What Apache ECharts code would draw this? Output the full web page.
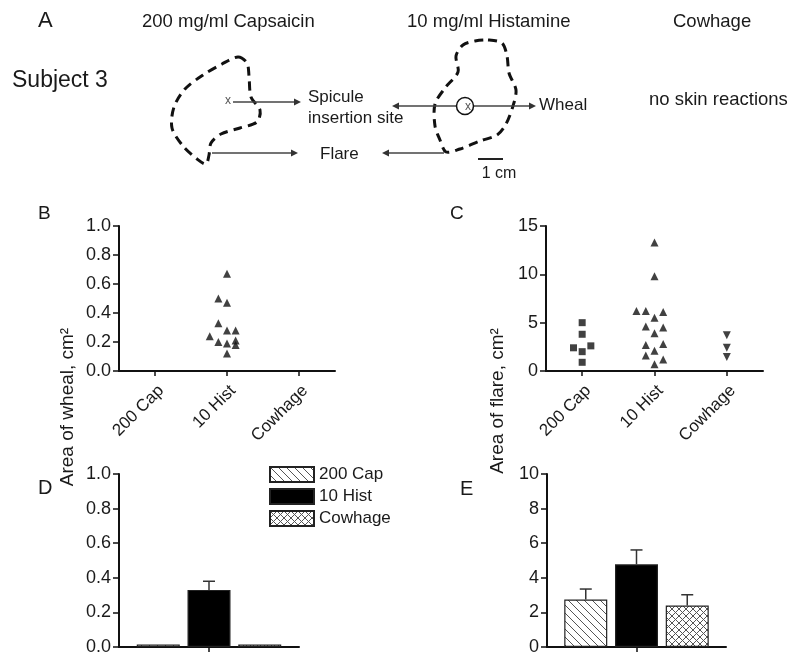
<!DOCTYPE html>
<html><head><meta charset="utf-8">
<script src="https://cdn.jsdelivr.net/npm/echarts@6/dist/echarts.min.js"></script>
<style>html,body{margin:0;padding:0;background:#fff}#c{width:800px;height:660px}</style>
</head><body><div id="c"></div>
<script>
// ---------------- data ----------------
const categories = ['200 Cap', '10 Hist', 'Cowhage'];
// Panel B: area of wheal (cm²), individual subjects (only 10 Hist produced wheals)
const wheal10Hist       = [0.67, 0.50, 0.47, 0.33, 0.24, 0.28, 0.28, 0.20, 0.19, 0.21, 0.18, 0.12];
const wheal10HistJitter = [0, -0.12, 0, -0.12, -0.24, 0, 0.12, -0.12, 0, 0.12, 0.12, 0];
// Panel C: area of flare (cm²), individual subjects
const flare200Cap       = [5.0, 3.8, 2.4, 2.6, 2.0, 0.9];
const flare200CapJitter = [0, 0, -0.12, 0.12, 0, 0];
const flare10Hist       = [13.3, 9.8, 6.2, 6.2, 6.1, 5.5, 4.6, 4.5, 3.9, 2.7, 2.8, 2.1, 1.6, 1.2, 0.7];
const flare10HistJitter = [0, 0, -0.25, -0.12, 0.12, 0, -0.12, 0.12, 0, -0.12, 0.12, 0, -0.12, 0.12, 0];
const flareCowhage      = [3.7, 2.4, 1.45];
// Panel D: mean wheal area ± SEM
const whealMean = [0.015, 0.33, 0.015];
const whealSem  = [0, 0.05, 0];
// Panel E: mean flare area ± SEM
const flareMean = [2.75, 4.78, 2.40];
const flareSem  = [0.60, 0.83, 0.62];
// axis ranges / ticks
const whealAxis = {min: 0, max: 1.0, interval: 0.2};
const flareScatterAxis = {min: 0, max: 15, interval: 5};
const flareBarAxis = {min: 0, max: 10, interval: 2};

// ---------------- styles ----------------
const FONT = '"Liberation Sans", Arial, Helvetica, sans-serif';
const TXT = '#1a1a1a';
const INK = '#111';
const BAR_W = 43;
const BAR_GAP = '18%';

function makePattern(cross) {
  const s = cross ? 7 : 8;
  const c = document.createElement('canvas');
  c.width = s; c.height = s;
  const g = c.getContext('2d');
  g.fillStyle = '#fff'; g.fillRect(0, 0, s, s);
  g.strokeStyle = '#555'; g.lineWidth = 1;
  g.beginPath();
  for (const x of [-s, 0, s]) {
    g.moveTo(x, 0); g.lineTo(x + s, s);
    if (cross) { g.moveTo(x + s, 0); g.lineTo(x, s); }
  }
  g.stroke();
  return {image: c, repeat: 'repeat'};
}
const fills = [makePattern(false), '#000', makePattern(true)];

const axisLineStyle = {show: true, onZero: false, lineStyle: {color: INK, width: 2}};
const tickStyle = {show: true, inside: false, length: 6, lineStyle: {color: INK, width: 1.5}};
const labelStyle = {color: TXT, fontSize: 18, fontFamily: FONT};

function valueY(grid, rng, dec) {
  return {
    type: 'value', gridIndex: grid, min: rng.min, max: rng.max, interval: rng.interval,
    axisLine: axisLineStyle, axisTick: tickStyle, splitLine: {show: false},
    axisLabel: Object.assign({margin: 8, formatter: v => v.toFixed(dec)}, labelStyle)
  };
}
function catX(grid, data, showLabel) {
  return {
    type: 'category', gridIndex: grid, data: data,
    axisLine: axisLineStyle, axisTick: Object.assign({alignWithLabel: true}, tickStyle, {length: 5}),
    axisLabel: Object.assign({}, labelStyle, {show: showLabel, rotate: 45, margin: 11, interval: 0,
      fontSize: 17, align: 'right', verticalAlign: 'top'}),
    splitLine: {show: false}
  };
}
function hiddenX(grid) {
  return {type: 'value', gridIndex: grid, min: -0.5, max: 2.5, show: false};
}
function jittered(values, jitter, catIndex) {
  return values.map((v, i) => [catIndex + (jitter ? jitter[i] : 0), v]);
}
function scatter(name, xi, yi, data, symbol, size, rot) {
  return {
    type: 'scatter', name: name, xAxisIndex: xi, yAxisIndex: yi, data: data,
    symbol: symbol, symbolSize: size, symbolRotate: rot || 0,
    itemStyle: {color: INK}, silent: true, z: 4
  };
}
function bar(name, xi, yi, k, mean) {
  const d = [mean[k]];
  return {
    type: 'bar', name: name, xAxisIndex: xi, yAxisIndex: yi, data: d,
    barWidth: BAR_W, barGap: BAR_GAP,
    itemStyle: {color: fills[k], borderColor: '#222', borderWidth: 1.2},
    silent: true
  };
}
function errBar(xi, yi, k, mean, sem) {
  return {
    type: 'custom', name: 'err' + xi + '_' + k, xAxisIndex: xi, yAxisIndex: yi, z: 6, silent: true,
    data: [[0, mean[k], sem[k]]],
    renderItem: function (params, api) {
      const m = api.value(1), s = api.value(2);
      if (!s) return null;
      const base = api.coord([0, m]);
      const top = api.coord([0, m + s]);
      let dx = (k - 1) * BAR_W * 1.18;
      try {
        if (api.barLayout) {
          const lay = api.barLayout({barWidth: BAR_W, barGap: BAR_GAP, count: 3});
          if (lay && lay[k] && isFinite(lay[k].offsetCenter)) dx = lay[k].offsetCenter;
        }
      } catch (e) {}
      const x = base[0] + dx;
      const st = {stroke: '#333', lineWidth: 1.5};
      return {type: 'group', children: [
        {type: 'line', shape: {x1: x, y1: base[1], x2: x, y2: top[1]}, style: st},
        {type: 'line', shape: {x1: x - 6, y1: top[1], x2: x + 6, y2: top[1]}, style: st}
      ]};
    }
  };
}

// ---------------- panel A schematic (graphic) ----------------
function txt(t, x, y, size, align, extra) {
  return Object.assign({type: 'text', x: x, y: y, silent: true,
    style: {text: t, fill: TXT, fontSize: size, fontFamily: FONT, align: align || 'left', verticalAlign: 'middle'}}, extra || {});
}
function smallX(x, y) {
  return {type: 'text', x: x, y: y, silent: true,
    style: {text: 'x', fill: '#555', fontSize: 12, fontFamily: FONT, align: 'center', verticalAlign: 'middle'}};
}
function arrow(x1, x2, y) {
  const dir = x2 > x1 ? 1 : -1;
  return [
    {type: 'line', silent: true, shape: {x1: x1, y1: y, x2: x2 - dir * 5, y2: y}, style: {stroke: '#444', lineWidth: 1.5}},
    {type: 'polygon', silent: true, shape: {points: [[x2, y], [x2 - dir * 7, y - 3.5], [x2 - dir * 7, y + 3.5]]}, style: {fill: '#333'}}
  ];
}
const dashStyle = {fill: 'transparent', stroke: INK, lineWidth: 3, lineDash: [9, 6]};
const capBlob = [[238,57],[247,63],[249,76],[251,97],[260,110],[257,122],[240,128],[221,134],[211,143],[209,155],[206,164],[197,159],[183,146],[172,128],[174,107],[185,89],[203,75],[222,64]];
const histBlob = [[488,40],[502,43],[507,56],[509,73],[516,90],[513,106],[506,124],[497,135],[480,141],[460,149],[446,152],[440,140],[435,126],[435,104],[445,88],[458,72],[456,56],[463,45],[475,41]];

const graphics = [
  txt('A', 38, 21, 22),
  txt('200 mg/ml Capsaicin', 142, 22, 18.5),
  txt('10 mg/ml Histamine', 407, 22, 18.5),
  txt('Cowhage', 673, 22, 18.5),
  txt('Subject 3', 12, 81, 23),
  {type: 'polygon', silent: true, shape: {points: capBlob, smooth: 0.3}, style: dashStyle},
  {type: 'polygon', silent: true, shape: {points: histBlob, smooth: 0.3}, style: dashStyle},
  smallX(228, 101),
  ...arrow(233, 301, 102),
  ...arrow(212, 298, 153),
  ...arrow(444, 382, 153),
  ...arrow(456, 392, 106),
  ...arrow(473, 536, 106),
  {type: 'circle', silent: true, shape: {cx: 465, cy: 106, r: 8.5}, style: {fill: 'transparent', stroke: INK, lineWidth: 1.5}},
  smallX(468, 107),
  txt('Spicule', 308, 97, 17),
  txt('insertion site', 308, 118, 17),
  txt('Flare', 320, 154, 17),
  txt('Wheal', 539, 105, 17),
  txt('no skin reactions', 649, 100, 18.5),
  {type: 'line', silent: true, shape: {x1: 478, y1: 159, x2: 503, y2: 159}, style: {stroke: '#222', lineWidth: 2}},
  txt('1 cm', 499, 174, 16, 'center'),
  // panel letters
  txt('B', 38, 214, 19),
  txt('C', 450, 214, 19),
  txt('D', 38, 488, 20),
  txt('E', 460, 489, 20),
  // y-axis titles (vertical)
  txt('Area of wheal, cm²', 68, 407, 19, 'center', {rotation: Math.PI / 2}),
  txt('Area of flare, cm²', 498, 401, 19, 'center', {rotation: Math.PI / 2})
];

// ---------------- option ----------------
const option = {
  backgroundColor: '#fff',
  animation: false,
  textStyle: {fontFamily: FONT},
  grid: [
    {left: 119, top: 226, width: 216, height: 145},
    {left: 546, top: 226, width: 217, height: 145},
    {left: 119, top: 474, width: 180, height: 173},
    {left: 547, top: 474, width: 179, height: 173}
  ],
  xAxis: [
    catX(0, categories, true), hiddenX(0),
    catX(1, categories, true), hiddenX(1),
    catX(2, ['mean'], false),
    catX(3, ['mean'], false)
  ],
  yAxis: [
    valueY(0, whealAxis, 1),
    valueY(1, flareScatterAxis, 0),
    valueY(2, whealAxis, 1),
    valueY(3, flareBarAxis, 0)
  ],
  legend: {
    data: categories, orient: 'vertical', left: 269, top: 466, padding: 0,
    itemWidth: 44, itemHeight: 15, itemGap: 5, icon: 'rect', selectedMode: false,
    textStyle: {fontSize: 17, color: TXT, fontFamily: FONT}
  },
  series: [
    scatter('wheal-10Hist', 1, 0, jittered(wheal10Hist, wheal10HistJitter, 1), 'triangle', 8),
    scatter('flare-200Cap', 3, 1, jittered(flare200Cap, flare200CapJitter, 0), 'rect', 7),
    scatter('flare-10Hist', 3, 1, jittered(flare10Hist, flare10HistJitter, 1), 'triangle', 8),
    scatter('flare-Cowhage', 3, 1, jittered(flareCowhage, null, 2), 'triangle', 8, 180),
    bar(categories[0], 4, 2, 0, whealMean),
    bar(categories[1], 4, 2, 1, whealMean),
    bar(categories[2], 4, 2, 2, whealMean),
    bar(categories[0], 5, 3, 0, flareMean),
    bar(categories[1], 5, 3, 1, flareMean),
    bar(categories[2], 5, 3, 2, flareMean),
    errBar(4, 2, 0, whealMean, whealSem),
    errBar(4, 2, 1, whealMean, whealSem),
    errBar(4, 2, 2, whealMean, whealSem),
    errBar(5, 3, 0, flareMean, flareSem),
    errBar(5, 3, 1, flareMean, flareSem),
    errBar(5, 3, 2, flareMean, flareSem)
  ],
  graphic: {elements: graphics}
};

const chart = echarts.init(document.getElementById('c'), null, {renderer: 'canvas'});
chart.setOption(option);
</script>
</body></html>
